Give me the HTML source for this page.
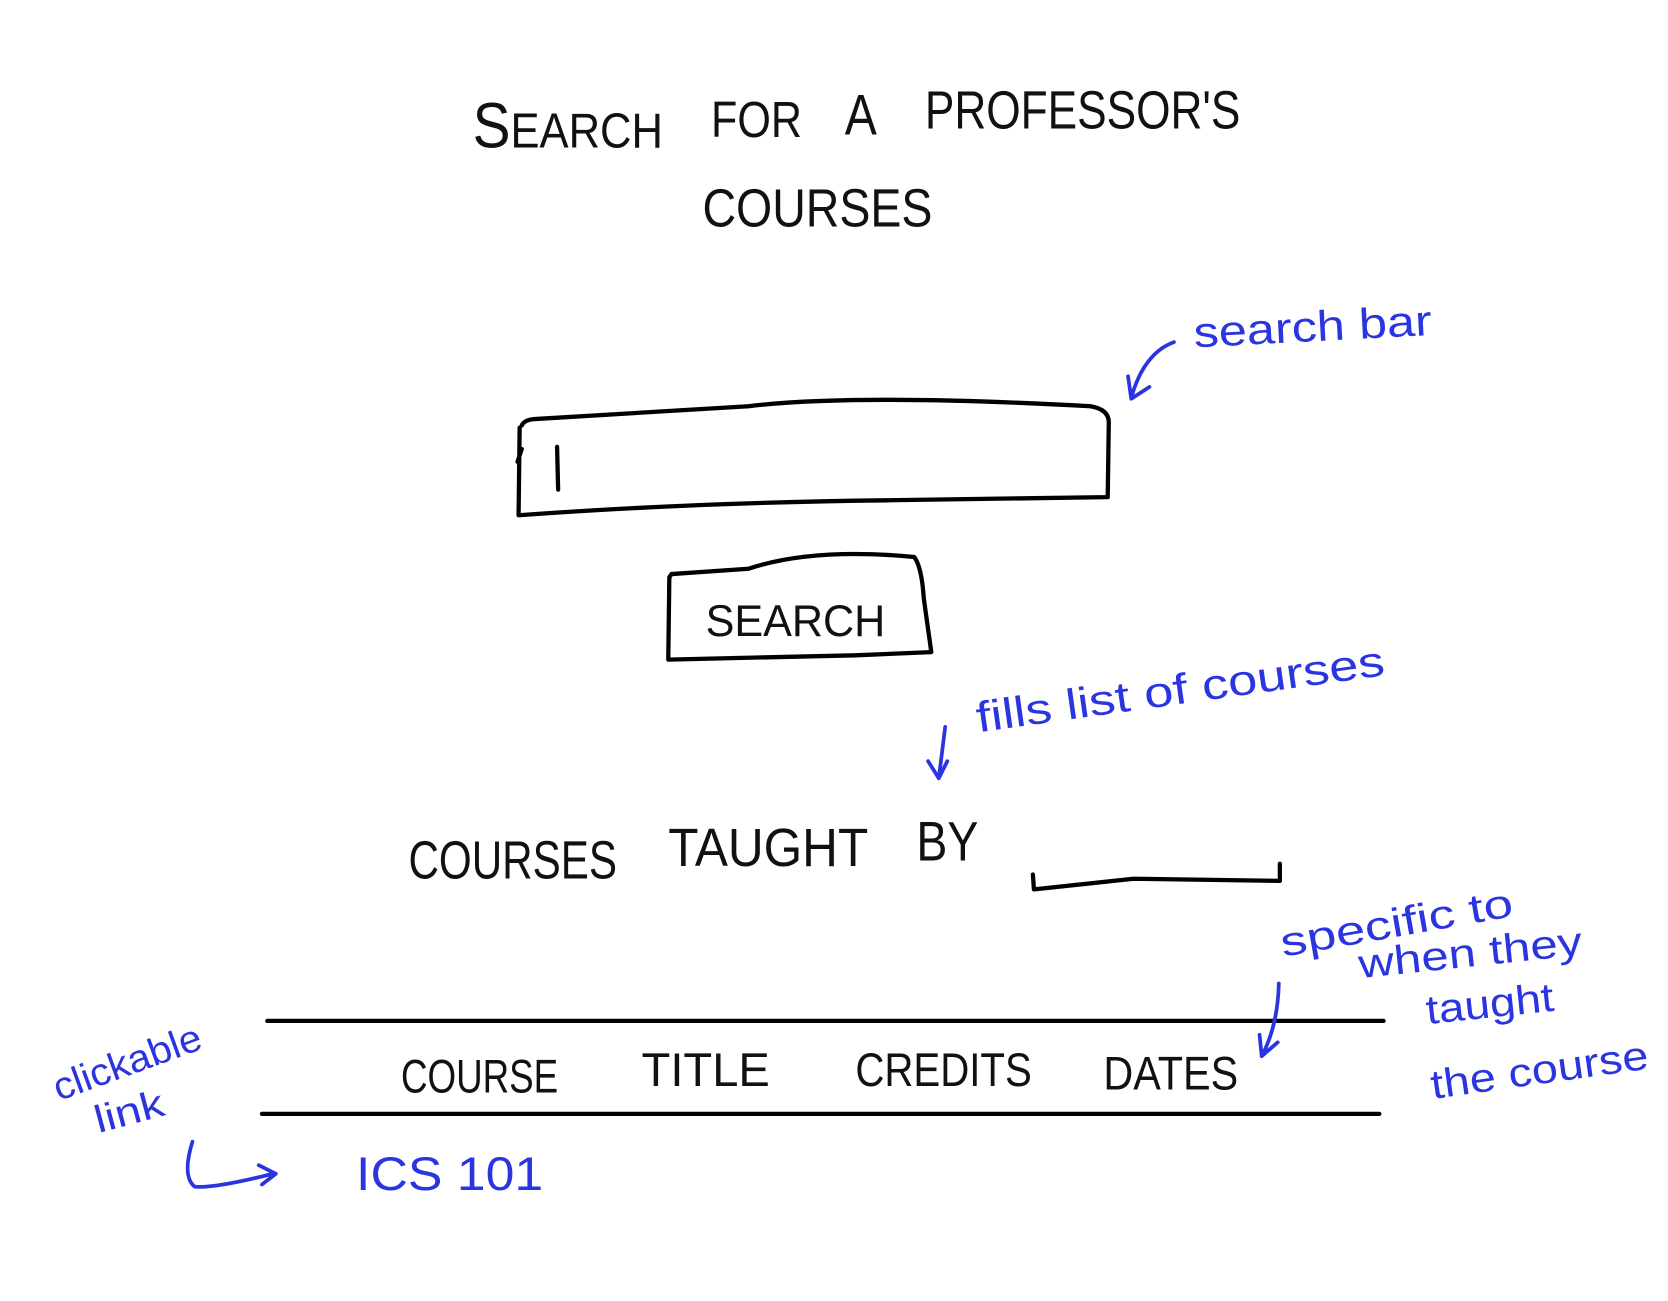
<!DOCTYPE html>
<html><head><meta charset="utf-8"><style>
html,body{margin:0;padding:0;background:#fff;}
svg{display:block;}
text{font-family:"Liberation Sans",sans-serif;}
.k{fill:#111;}
.b{fill:#2a35e0;}
</style></head><body>
<svg width="1668" height="1301" viewBox="0 0 1560 1217" preserveAspectRatio="none" xmlns="http://www.w3.org/2000/svg">
<g fill="none" stroke="#000" stroke-width="4" stroke-linecap="round" stroke-linejoin="round">
<path d="M488 398 Q490 393 500 392 L700 380 Q800 368 1020 380 Q1037 383 1037 395 L1036 465 L830 468 Q650 470 485 482 L486 400 M484 432 L488 420"/>
<path d="M521 418 L522 458"/>
<path d="M628 537 L700 532 Q760 512 855 521 Q862 530 864 560 L871 610 L800 613 L625 617 L626 540 Z"/>
<path d="M966 818 L967 832 L1060 822 L1197 824 L1197 808"/>
<path d="M250 955 L1294 955"/>
<path d="M245 1042 L1290 1042"/>
</g>
<g fill="none" stroke="#2a35e0" stroke-width="3.5" stroke-linecap="round" stroke-linejoin="round">
<path d="M1098 320 Q1070 330 1058 372 M1055 352 L1058 373 L1075 362"/>
<path d="M884 680 L878 728 M868 712 L878 728 L886 712"/>
<path d="M1196 920 Q1195 960 1180 988 M1178 968 L1180 988 L1195 975"/>
<path d="M180 1068 Q170 1100 182 1110 Q200 1112 255 1098 M242 1090 L258 1098 L245 1108"/>
</g>
<g class="k" lengthAdjust="spacingAndGlyphs">
<text x="442" y="138" font-size="60" textLength="178" lengthAdjust="spacingAndGlyphs">S<tspan font-size="46">EARCH</tspan></text>
<text x="665" y="128" font-size="48" textLength="85" lengthAdjust="spacingAndGlyphs">FOR</text>
<text x="790" y="126" font-size="54" textLength="30" lengthAdjust="spacingAndGlyphs">A</text>
<text x="865" y="120" font-size="50" textLength="295" lengthAdjust="spacingAndGlyphs">PROFESSOR'S</text>
<text x="657" y="212" font-size="50" textLength="215" lengthAdjust="spacingAndGlyphs">COURSES</text>
<text x="660" y="595" font-size="42" textLength="168" lengthAdjust="spacingAndGlyphs">SEARCH</text>
<text x="382" y="822" font-size="50" textLength="195" lengthAdjust="spacingAndGlyphs">COURSES</text>
<text x="625" y="810" font-size="50" textLength="187" lengthAdjust="spacingAndGlyphs">TAUGHT</text>
<text x="857" y="805" font-size="52" textLength="58" lengthAdjust="spacingAndGlyphs">BY</text>
<text x="375" y="1022" font-size="44" textLength="147" lengthAdjust="spacingAndGlyphs">COURSE</text>
<text x="600" y="1016" font-size="44" textLength="120" lengthAdjust="spacingAndGlyphs">TITLE</text>
<text x="800" y="1016" font-size="44" textLength="165" lengthAdjust="spacingAndGlyphs">CREDITS</text>
<text x="1032" y="1019" font-size="44" textLength="126" lengthAdjust="spacingAndGlyphs">DATES</text>
</g>
<g class="b">
<text x="1117" y="325" font-size="40" textLength="223" lengthAdjust="spacingAndGlyphs" transform="rotate(-3 1117 325)">search bar</text>
<text x="915" y="685" font-size="40" textLength="385" lengthAdjust="spacingAndGlyphs" transform="rotate(-8 915 685)">fills list of courses</text>
<text x="1200" y="895" font-size="38" textLength="220" lengthAdjust="spacingAndGlyphs" transform="rotate(-10 1200 895)">specific to</text>
<text x="1272" y="915" font-size="38" textLength="210" lengthAdjust="spacingAndGlyphs" transform="rotate(-6 1272 915)">when they</text>
<text x="1335" y="958" font-size="38" textLength="120" lengthAdjust="spacingAndGlyphs" transform="rotate(-6 1335 958)">taught</text>
<text x="1340" y="1028" font-size="38" textLength="205" lengthAdjust="spacingAndGlyphs" transform="rotate(-8 1340 1028)">the course</text>
<text x="55" y="1030" font-size="36" textLength="145" lengthAdjust="spacingAndGlyphs" transform="rotate(-20 55 1030)">clickable</text>
<text x="92" y="1060" font-size="36" textLength="66" lengthAdjust="spacingAndGlyphs" transform="rotate(-15 92 1060)">link</text>
<text x="333" y="1113" font-size="44" textLength="175" lengthAdjust="spacingAndGlyphs">ICS 101</text>
</g>
</svg>
</body></html>
